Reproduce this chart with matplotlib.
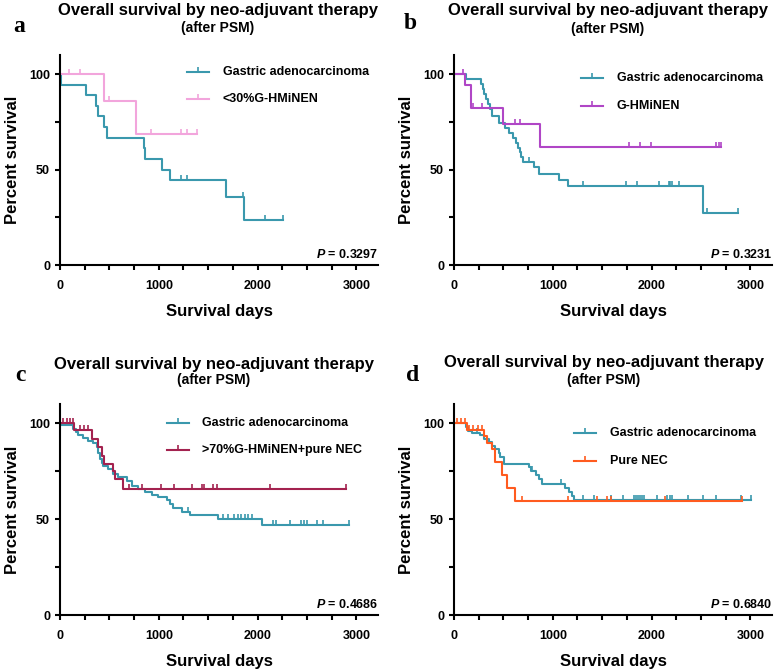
import numpy as np
import matplotlib
matplotlib.use('Agg')
import matplotlib.pyplot as plt
from matplotlib.path import Path
from matplotlib.ticker import FixedLocator, MultipleLocator

plt.rcParams['font.family'] = ['Liberation Sans', 'DejaVu Sans']
plt.rcParams['font.weight'] = 'bold'
plt.rcParams['mathtext.fontset'] = 'custom'
plt.rcParams['mathtext.bfit'] = 'Liberation Sans:italic:bold'

# panel a
a_gastric_times = [10, 263, 361, 387, 448, 478, 848, 858, 1034, 1118, 1684, 1865]
a_gastric_surv = [94.4, 88.9, 83.3, 77.8, 72.2, 66.7, 61.1, 55.6, 50.0, 44.4, 35.6, 23.7]
a_gastric_censor = [1222, 1290, 1855, 2072, 2260]
a_other_times = [445, 768]
a_other_surv = [85.7, 68.6]
a_other_censor = [91, 205, 498, 925, 1228, 1289, 1390]

# panel b
b_gastric_times = [120, 273, 290, 305, 320, 340, 368, 385, 453, 521, 560, 600, 625, 650,
                   665, 680, 695, 811, 862, 1067, 1152, 2522]
b_gastric_surv = [97.4, 94.7, 92.1, 89.5, 86.8, 84.2, 81.6, 77.9, 74.4, 71.8, 69.2, 66.6, 64.0, 61.4,
                  59.0, 56.6, 53.8, 51.3, 47.8, 44.6, 41.2, 27.5]
b_gastric_censor = [760, 1305, 1738, 1851, 2072, 2175, 2191, 2209, 2277, 2566, 2880]
b_other_times = [109, 171, 498, 866]
b_other_surv = [94.1, 82.4, 74.1, 61.8]
b_other_censor = [95, 192, 287, 617, 665, 1772, 1885, 1997, 2652, 2686, 2703]

# panel c
c_gastric_times = [15, 135, 159, 186, 236, 287, 338, 372, 388, 405, 422, 439, 490, 540,
                   591, 675, 726, 794, 861, 929, 996, 1081, 1115, 1148, 1233, 1317, 1604, 2043]
c_gastric_surv = [98.8, 97.0, 95.6, 93.9, 92.3, 90.9, 89.5, 87.4, 84.5, 81.5, 79.5, 77.8, 76.1, 73.5,
                  71.7, 70.0, 67.3, 65.6, 63.9, 62.7, 61.6, 59.8, 58.1, 56.0, 53.9, 52.1, 50.3, 46.8]
c_gastric_censor = [1300, 1650, 1700, 1760, 1800, 1830, 1870, 1900, 1940, 2160, 2190, 2330,
                    2440, 2470, 2500, 2600, 2668, 2922]
c_other_times = [142, 321, 388, 422, 449, 540, 557, 642]
c_other_surv = [96.5, 91.7, 87.4, 83.0, 78.7, 75.2, 70.8, 65.6]
c_other_censor = [34, 68, 101, 135, 203, 246, 287, 700, 830, 1023, 1158, 1334, 1435, 1462,
                  1553, 1587, 2128, 2898]

# panel d
d_gastric_times = [122, 139, 180, 260, 300, 350, 384, 418, 452, 469, 503, 758, 775, 826,
                   860, 894, 1125, 1160, 1190, 1211]
d_gastric_surv = [97.9, 96.1, 94.8, 93.6, 91.8, 90.0, 88.3, 86.5, 84.3, 82.5, 78.7, 77.0, 74.9, 73.1,
                  70.8, 68.5, 66.4, 64.3, 62.2, 60.2]
d_gastric_censor = [231, 790, 1081, 1306, 1422, 1586, 1712, 1820, 1840, 1860, 1880, 1900, 1920,
                    2060, 2160, 2185, 2205, 2374, 2520, 2656, 2908, 3003]
d_other_times = [129, 299, 333, 384, 418, 486, 537, 622]
d_other_surv = [96.6, 93.2, 89.8, 86.4, 79.6, 72.8, 66.0, 59.2]
d_other_censor = [34, 68, 112, 156, 197, 238, 282, 690, 1150, 1449, 1551, 1586, 2136, 2918]

labels = ['Gastric adenocarcinoma', '<30%G-HMiNEN', 'G-HMiNEN', '>70%G-HMiNEN+pure NEC', 'Pure NEC']
p_values = ['0.3297', '0.3231', '0.4686', '0.6840']
x_ticks = [0, 1000, 2000, 3000]
y_ticks = [0, 50, 100]

TEAL = '#3a98ad'
TICK = Path([(0, 0), (0, 1)], [Path.MOVETO, Path.LINETO])
W, H = 778, 672


def survivalCurve(ax, times, surv, censor, color):
    end = censor[-1]
    x = [0] + list(times) + [end]
    y = [100] + list(surv) + [surv[-1]]
    ax.step(x, y, where='post', color=color, lw=1.5)
    levels = np.array([100] + list(surv))
    cy = levels[np.searchsorted(np.array(times), censor, side='right')]
    ax.plot(censor, cy, ls='none', marker=TICK, ms=7, mew=1.2, mfc='none', color=color)


def addLegend(ax, x0, ys, names, colors):
    for y, name, color in zip(ys, names, colors):
        ax.plot([x0, x0 + 0.07], [y, y], color=color, lw=1.5, transform=ax.transAxes, clip_on=False)
        ax.plot([x0 + 0.035], [y], marker=TICK, ms=7, mew=1.2, mfc='none', color=color,
                transform=ax.transAxes, clip_on=False)
        ax.text(x0 + 0.112, y, name, transform=ax.transAxes, va='center', ha='left', fontsize=9)


def plotPanel(fig, box, letter, letter_pos, title_pos, gastric, other, other_color, other_label,
              legend_x, legend_ys, p):
    left, top, w, h = box
    ax = fig.add_axes([left / W, 1 - (top + h) / H, w / W, h / H])
    survivalCurve(ax, *gastric, TEAL)
    survivalCurve(ax, *other, other_color)

    ax.set_xlim(0, 3220)
    ax.set_ylim(0, 110)
    ax.xaxis.set_major_locator(FixedLocator(x_ticks))
    ax.xaxis.set_minor_locator(MultipleLocator(250))
    ax.yaxis.set_major_locator(FixedLocator(y_ticks))
    ax.yaxis.set_minor_locator(FixedLocator([25, 75]))
    ax.spines['top'].set_visible(False)
    ax.spines['right'].set_visible(False)
    for s in ['left', 'bottom']:
        ax.spines[s].set_linewidth(1.5)
    ax.tick_params(which='both', direction='out', length=3.6, width=1.5, labelsize=9)
    ax.tick_params(axis='x', which='major', pad=7)
    ax.tick_params(axis='y', which='major', pad=3.5)
    for lbl in ax.get_xticklabels() + ax.get_yticklabels():
        lbl.set_fontweight('bold')

    ax.set_xlabel('Survival days', fontsize=12, fontweight='bold')
    ax.set_ylabel('Percent survival', fontsize=12, fontweight='bold')
    ax.xaxis.set_label_coords(0.5, -0.185)
    ax.yaxis.set_label_coords(-0.125, 0.5)

    addLegend(ax, legend_x, legend_ys, [labels[0], other_label], [TEAL, other_color])
    ax.text(1.0, 0.048, r'$\mathbfit{P}$ = ' + p, transform=ax.transAxes, ha='right', va='center',
            fontsize=9, fontweight='bold')

    tx, ty, sy = title_pos
    fig.text(tx / W, 1 - ty / H, 'Overall survival by neo-adjuvant therapy', ha='center', va='center',
             fontsize=12, fontweight='bold')
    fig.text(tx / W, 1 - sy / H, '(after PSM)', ha='center', va='center', fontsize=10, fontweight='bold')
    fig.text(letter_pos[0] / W, 1 - letter_pos[1] / H, letter, ha='left', va='baseline', fontsize=17,
             fontweight='bold', family='Liberation Serif')
    return ax


fig = plt.figure(figsize=(W / 100, H / 100), dpi=100)

plotPanel(fig, (60, 55, 318, 210), 'a', (13, 32), (218, 10, 28),
          (a_gastric_times, a_gastric_surv, a_gastric_censor),
          (a_other_times, a_other_surv, a_other_censor), '#f2a5dc', labels[1],
          0.40, [0.919, 0.79], p_values[0])
plotPanel(fig, (454, 55, 318, 210), 'b', (404, 29), (608, 10, 29),
          (b_gastric_times, b_gastric_surv, b_gastric_censor),
          (b_other_times, b_other_surv, b_other_censor), '#b046c6', labels[2],
          0.40, [0.89, 0.757], p_values[1])
plotPanel(fig, (60, 404, 318, 211), 'c', (15, 381), (214, 365, 380),
          (c_gastric_times, c_gastric_surv, c_gastric_censor),
          (c_other_times, c_other_surv, c_other_censor), '#a3224f', labels[3],
          0.335, [0.91, 0.78], p_values[2])
plotPanel(fig, (454, 404, 318, 211), 'd', (406, 381), (604, 363, 380),
          (d_gastric_times, d_gastric_surv, d_gastric_censor),
          (d_other_times, d_other_surv, d_other_censor), '#ff5b1f', labels[4],
          0.377, [0.863, 0.731], p_values[3])

fig.savefig('out.png', dpi=100)
